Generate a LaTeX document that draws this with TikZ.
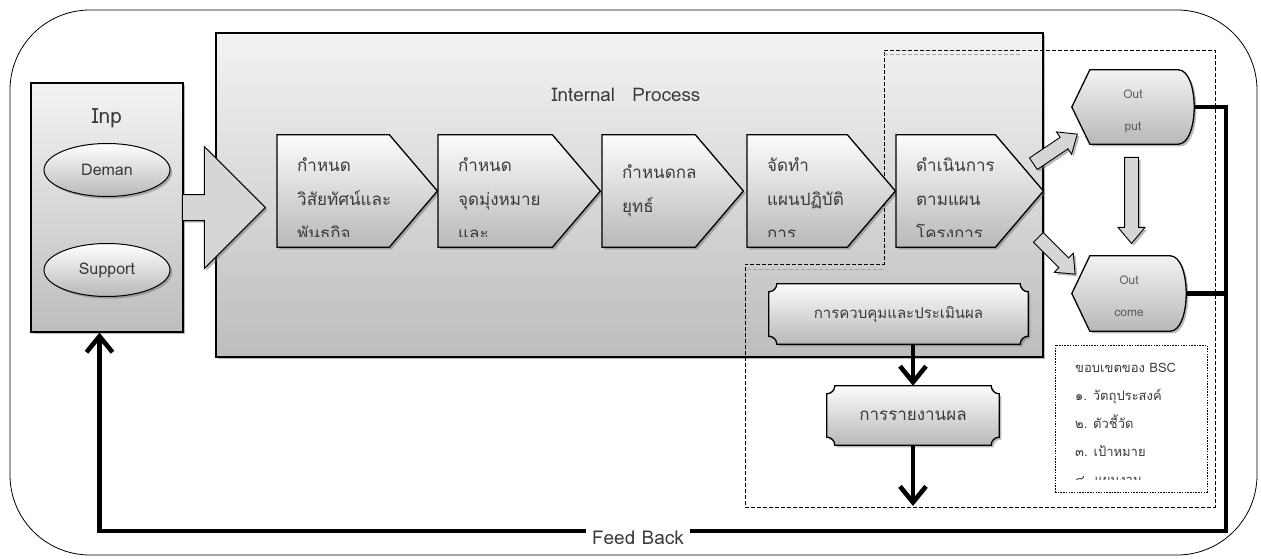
\documentclass[tikz,border=0pt]{standalone}
\usepackage{fontspec}
\setmainfont[Script=Thai]{Loma}
\usetikzlibrary{arrows.meta,calc,shadows,shapes.geometric,shapes.arrows}

\definecolor{paneltop}{HTML}{F3F3F3}
\definecolor{panelbot}{HTML}{BDBDBD}
\definecolor{chevtop}{HTML}{FCFCFC}
\definecolor{chevbot}{HTML}{B8B8B8}
\definecolor{inkgray}{HTML}{3A3A3A}
\definecolor{softgray}{HTML}{5A5A5A}
\definecolor{arrowgray}{HTML}{D6D6D6}

\tikzset{
  softshadow/.style={drop shadow={shadow xshift=2.2pt,shadow yshift=-2.2pt,fill=black!60,opacity=.45}},
  plaquestyle/.style={draw,line width=1.3pt,top color=chevtop,bottom color=chevbot,softshadow},
  dispstyle/.style={draw,line width=1.3pt,top color=paneltop,bottom color=chevbot,softshadow}
}

% concave-cornered box round a node
\newcommand\plaque[2]{%
  \draw[plaquestyle] ($(#1.north west)+(0,#2)$) .. controls ($(#1.north west)+(0.55*#2,#2)$) and ($(#1.north west)+(#2,0.55*#2)$) .. ($(#1.north west)+(#2,0)$)
    -- ($(#1.north east)+(-#2,0)$) .. controls ($(#1.north east)+(-#2,0.55*#2)$) and ($(#1.north east)+(-0.55*#2,#2)$) .. ($(#1.north east)+(0,#2)$)
    -- ($(#1.south east)+(0,-#2)$) .. controls ($(#1.south east)+(-0.55*#2,-#2)$) and ($(#1.south east)+(-#2,-0.55*#2)$) .. ($(#1.south east)+(-#2,0)$)
    -- ($(#1.south west)+(#2,0)$) .. controls ($(#1.south west)+(#2,-0.55*#2)$) and ($(#1.south west)+(0.55*#2,-#2)$) .. ($(#1.south west)+(0,-#2)$) -- cycle;}

% pointed left side, rounded right side
\newcommand\dispshape[1]{%
  \draw[dispstyle] (#1.west) -- ($(#1.north west)+(18,0)$) -- ($(#1.north east)+(-16,0)$)
    .. controls ($(#1.north east)+(-6,0)$) and ($(#1.east)+(0,-20)$) .. (#1.east)
    .. controls ($(#1.east)+(0,20)$) and ($(#1.south east)+(-6,0)$) .. ($(#1.south east)+(-16,0)$)
    -- ($(#1.south west)+(18,0)$) -- cycle;}

\begin{document}
\begin{tikzpicture}
	[x=1pt,y=-1pt,
	panel/.style={draw,line width=1.2pt,top color=paneltop,bottom color=panelbot,softshadow,inner sep=0pt},
	blank/.style={inner sep=0pt},
	chevshape/.style={draw,line width=1.3pt,top color=chevtop,bottom color=chevbot,softshadow},
	chevtext/.style={anchor=west,align=left,inner sep=0pt,text=inkgray,font=\fontsize{17}{34}\selectfont},
	plaquetext/.style={inner sep=0pt,text=inkgray,font=\fontsize{17}{17}\selectfont},
	outtext/.style={align=center,inner sep=0pt,text=softgray,font=\fontsize{12}{32}\selectfont},
	blob/.style={ellipse,draw,line width=1pt,top color=white,bottom color=chevbot,softshadow,minimum width=126,minimum height=53,text=inkgray,font=\fontsize{16}{16}\selectfont},
	blockarrow/.style={single arrow,draw,line width=.9pt,fill=arrowgray,softshadow,inner xsep=0pt,inner ysep=6.5pt,single arrow head extend=6.5,single arrow tip angle=80,anchor=tail},
	dashline/.style={dash pattern=on 4pt off 2pt,line width=.9pt},
	fbline/.style={line width=4.6pt},
	barb/.style={-{Straight Barb[length=16pt,width=26pt]}}]
	\useasboundingbox (0,0) rectangle (1261,559);
	\draw[line width=.8pt,rounded corners=80] (10,10) rectangle (1257,555);
	
	\node[panel,minimum width=827,minimum height=324] (ip) at (629.5,195) {};
	\draw[dashline] (884,50) -- (1215,50) -- (1215,507) -- (745,507) -- (745,264) -- (884,264) -- cycle;
	\draw[dashline,gray!70] (884,54) -- (1022,54) (747,269) -- (884,269);
	\node[text=inkgray,font=\fontsize{18.8}{18.8}\selectfont] (iplabel) at (626,95) {Internal\hspace{11pt} Process};
	
	\node[panel,minimum width=152,minimum height=249] (inp) at (107,207.5) {};
	\node[text=inkgray,font=\fontsize{21}{21}\selectfont] (inplabel) at (107,118) {Inp};
	\node[blob] (dem) at (107,170) {Deman};
	\node[blob] (sup) at (107,270) {Support};
	\node[single arrow,draw,line width=1pt,fill=arrowgray,softshadow,inner xsep=0pt,inner ysep=12.5pt,minimum height=83,single arrow head extend=48,anchor=tip] (inarr) at (266,207.5) {};
	
	\node[blank,minimum width=112,minimum height=112,anchor=west] (c1) at (277,191) {};
	\node[blank,minimum width=114,minimum height=112,anchor=west] (c2) at (438,191) {};
	\node[blank,minimum width=93,minimum height=112,anchor=west] (c3) at (602,191) {};
	\node[blank,minimum width=100,minimum height=112,anchor=west] (c4) at (747,191) {};
	\node[blank,minimum width=99,minimum height=112,anchor=west] (c5) at (896,191) {};
	\foreach \n in {c1,c2,c3,c4,c5}
	\draw[chevshape] (\n.north west) -- (\n.north east) -- ($(\n.east)+(48,0)$) -- (\n.south east) -- (\n.south west) -- cycle;
	
	\begin{scope}
	\clip (216,33) rectangle (1043,236);
	\node[chevtext] (c1t) at ($(c1.west)+(20,8)$) {กำหนด\\วิสัยทัศน์และ\\พันธกิจ};
	\node[chevtext] (c2t) at ($(c2.west)+(20,8)$) {กำหนด\\จุดมุ่งหมาย\\และ};
	\node[chevtext] (c3t) at ($(c3.west)+(20,0)$) {กำหนดกล\\ยุทธ์};
	\node[chevtext] (c4t) at ($(c4.west)+(20,8)$) {จัดทำ\\แผนปฏิบัติ\\การ};
	\node[chevtext] (c5t) at ($(c5.west)+(20,8)$) {ดำเนินการ\\ตามแผน\\โครงการ};
	\end{scope}
	
	\node[blank,minimum width=259,minimum height=60] (ctrl) at (898.5,314) {};
	\plaque{ctrl}{8}
	\node[plaquetext,font=\fontsize{15}{15}\selectfont] (ctrlt) at (ctrl) {การควบคุมและประเมินผล};
	\node[blank,minimum width=172,minimum height=59] (rep) at (913,415.5) {};
	\plaque{rep}{8}
	\node[plaquetext] (rept) at (rep) {การรายงานผล};
	\coordinate (repend) at (913,506);
	\draw[fbline,barb] (rep.north |- ctrl.south) -- (rep.north);
	\draw[fbline,barb] (rep.south) -- (repend);
	
	\node[blank,minimum width=122,minimum height=74] (out) at (1133,107) {};
	\dispshape{out}
	\node[outtext] (outt) at ($(out)+(0,4)$) {Out\\put};
	\node[blank,minimum width=114,minimum height=75] (oc) at (1129,293.5) {};
	\dispshape{oc}
	\node[outtext] (oct) at ($(oc)+(0,3)$) {Out\\come};
	
	\node[blockarrow,minimum height=86,rotate=-90] (a1) at (1131.5,157) {};
	\node[blockarrow,minimum height=53,rotate=34] (a2) at (1033,164) {};
	\node[blockarrow,minimum height=52,rotate=-45] (a3) at (1038,237) {};
	
	\node[draw,dash pattern=on 1.5pt off 1.2pt,line width=.8pt,minimum width=152,minimum height=147] (bsc) at (1131,418.5) {};
	\begin{scope}
	\clip (1055,345) rectangle (1207,479);
	\node[anchor=west,align=left,inner sep=0pt,text=inkgray,font=\fontsize{13}{28}\selectfont] (bsct) at (1075,424) {ขอบเขตของ BSC\\๑. วัตถุประสงค์\\๒. ตัวชี้วัด\\๓. เป้าหมาย\\๔. แผนงาน};
	\end{scope}
	
	\coordinate (fbtop) at (1226,107);
	\coordinate (fbbot) at (1226,531);
	\coordinate (fbleft) at (99.5,531);
	\draw[fbline,barb] (out.east) -- (fbtop) -- (fbbot) -- (fbleft) -- (fbleft |- inp.south);
	\draw[fbline] (oc.east) -- (oc.east -| fbtop);
	\node[fill=white,inner xsep=6pt,inner ysep=3pt,text=inkgray,font=\fontsize{19}{19}\selectfont] (fb) at (638,538) {Feed Back};
\end{tikzpicture}
\end{document}
